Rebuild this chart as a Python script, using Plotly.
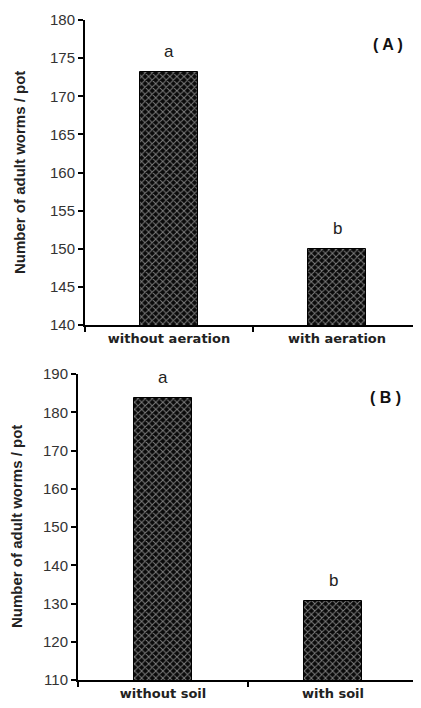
import plotly.graph_objects as go

# panel A
categories_a = ["without aeration", "with aeration"]
values_a = [173.2, 150.0]
letters_a = ["a", "b"]

# panel B
categories_b = ["without soil", "with soil"]
values_b = [183.8, 130.6]
letters_b = ["a", "b"]

# the page body has an 8px margin, so the figure is drawn 8px in from the corner
OFF = 8
W, H = 421 - OFF, 708 - OFF


def px_x(p):
    return (p - OFF) / W


def px_y(p):
    return 1 - (p - OFF) / H


pattern = dict(shape="x", bgcolor="#0a0a0a", fgcolor="#f0f0f0", size=5, solidity=0.35)

fig = go.Figure()
fig.add_trace(go.Bar(
    x=categories_a, y=values_a, width=0.345, xaxis="x", yaxis="y",
    marker=dict(color="#0a0a0a", pattern=pattern, line=dict(color="black", width=1)),
    showlegend=False,
))
fig.add_trace(go.Bar(
    x=categories_b, y=values_b, width=0.345, xaxis="x2", yaxis="y2",
    marker=dict(color="#0a0a0a", pattern=pattern, line=dict(color="black", width=1)),
    showlegend=False,
))

tick_font = dict(family="Liberation Sans, Arial", size=15, color="#333333")
cat_font = dict(family="DejaVu Sans", size=13, color="#222222", weight="bold")

xcommon = dict(
    type="category", showline=True, linecolor="black", linewidth=2,
    ticks="outside", tickson="boundaries", ticklen=5, tickcolor="black", tickwidth=2,
    tickfont=cat_font, showgrid=False, zeroline=False, automargin=False,
    fixedrange=True,
)
ycommon = dict(
    showline=True, linecolor="black", linewidth=2, ticks="outside", ticklen=5,
    tickcolor="black", tickwidth=1.5, tickfont=tick_font, showgrid=False,
    zeroline=False, automargin=False, fixedrange=True,
)

fig.update_layout(
    width=W, height=H,
    margin=dict(l=0, r=0, t=0, b=0),
    paper_bgcolor="white", plot_bgcolor="white",
    bargap=0,
    xaxis=dict(xcommon, domain=[px_x(85), 1], anchor="y", range=[-0.5, 1.5]),
    yaxis=dict(ycommon, domain=[px_y(325), px_y(20)], anchor="x",
               range=[140, 180], dtick=5),
    xaxis2=dict(xcommon, domain=[px_x(78), px_x(418)], anchor="y2", range=[-0.5, 1.5]),
    yaxis2=dict(ycommon, domain=[px_y(680), px_y(374)], anchor="x2",
                range=[110, 190], dtick=10),
)

title_font = dict(family="Liberation Sans, Arial", size=15, color="#222222", weight="bold")
letter_font = dict(family="Liberation Sans, Arial", size=17, color="#222222")
panel_font = dict(family="Liberation Sans, Arial", size=16, color="#111111", weight="bold")

annotations = []
# y-axis titles
annotations.append(dict(text="Number of adult worms / pot", textangle=-90,
                        x=px_x(19), y=px_y(173), xref="paper", yref="paper",
                        xanchor="center", yanchor="middle",
                        showarrow=False, font=title_font))
annotations.append(dict(text="Number of adult worms / pot", textangle=-90,
                        x=px_x(16), y=px_y(527), xref="paper", yref="paper",
                        xanchor="center", yanchor="middle",
                        showarrow=False, font=title_font))
# panel labels
annotations.append(dict(text="( A )", x=px_x(388), y=px_y(45), xref="paper", yref="paper",
                        xanchor="center", yanchor="middle",
                        showarrow=False, font=panel_font))
annotations.append(dict(text="( B )", x=px_x(385), y=px_y(397), xref="paper", yref="paper",
                        xanchor="center", yanchor="middle",
                        showarrow=False, font=panel_font))
# significance letters
for c, v, t in zip(categories_a, values_a, letters_a):
    annotations.append(dict(text=t, x=c, y=v, xref="x", yref="y", yanchor="bottom",
                            yshift=9, showarrow=False, font=letter_font))
for c, v, t in zip(categories_b, values_b, letters_b):
    annotations.append(dict(text=t, x=c, y=v, xref="x2", yref="y2", yanchor="bottom",
                            yshift=9, showarrow=False, font=letter_font))

fig.update_layout(annotations=annotations)

fig.write_html("out.html")
